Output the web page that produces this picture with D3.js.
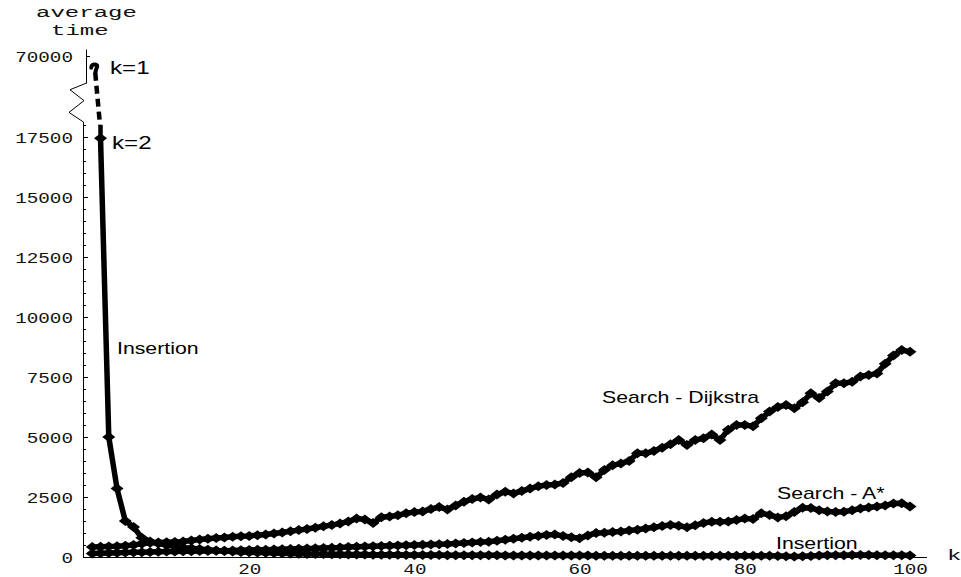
<!DOCTYPE html>
<html>
<head>
<meta charset="utf-8">
<script src="https://cdn.jsdelivr.net/npm/d3@7"></script>
<style>
  html, body { margin: 0; padding: 0; background: #fff; }
  svg { display: block; }
</style>
</head>
<body>
<svg id="chart" width="961" height="577"></svg>
<script>
// k = number of nearest neighbours requested
const kValues = d3.range(1, 101);

// average time per query, one value per k
const insertion = [
  69000, 17450, 5000, 2850, 1500, 1250, 800, 650, 560, 500,
  450, 400, 360, 330, 300, 270, 250, 230, 210, 200,
  185, 175, 165, 155, 145, 140, 130, 125, 120, 115,
  110, 105, 100, 100, 95, 95, 90, 90, 85, 85,
  80, 80, 80, 75, 75, 75, 70, 70, 70, 70,
  65, 65, 65, 65, 60, 60, 60, 60, 60, 60,
  60, 55, 55, 55, 55, 55, 55, 55, 55, 55,
  55, 55, 50, 50, 50, 50, 50, 50, 50, 50,
  50, 50, 50, 45, 30, 25, 30, 45, 60, 70,
  70, 75, 80, 80, 80, 75, 75, 70, 70, 60
];

const dijkstra = [
  420, 430, 440, 450, 470, 500, 550, 590, 600, 610,
  620, 650, 690, 730, 760, 790, 810, 840, 860, 880,
  910, 940, 980, 1020, 1070, 1120, 1170, 1220, 1280, 1330,
  1400, 1480, 1600, 1560, 1420, 1660, 1690, 1740, 1820, 1870,
  1900, 2000, 2080, 1980, 2150, 2300, 2420, 2480, 2400, 2600,
  2720, 2650, 2750, 2850, 2950, 3000, 3020, 3080, 3320, 3500,
  3520, 3320, 3620, 3820, 3900, 4000, 4320, 4320, 4420, 4550,
  4700, 4870, 4670, 4870, 4950, 5100, 4880, 5300, 5500, 5500,
  5450, 5780, 6060, 6250, 6330, 6200, 6450, 6820, 6620, 6900,
  7240, 7240, 7300, 7520, 7580, 7650, 8050, 8400, 8620, 8550
];

const aStar = [
  150, 160, 170, 180, 190, 200, 200, 210, 220, 230,
  230, 240, 240, 250, 250, 260, 260, 270, 280, 290,
  300, 300, 310, 320, 330, 340, 350, 360, 380, 390,
  400, 420, 430, 440, 450, 460, 470, 480, 490, 500,
  510, 520, 530, 540, 560, 580, 600, 620, 640, 680,
  720, 760, 800, 840, 880, 920, 940, 880, 820, 780,
  900, 1000, 1010, 1040, 1060, 1100, 1140, 1190, 1240, 1290,
  1330, 1300, 1240, 1320, 1420, 1470, 1470, 1480, 1540, 1600,
  1580, 1820, 1750, 1650, 1700, 1880, 2050, 2040, 1950, 1900,
  1880, 1890, 1950, 2020, 2060, 2100, 2150, 2230, 2240, 2100
];

const yTickValues = [0, 2500, 5000, 7500, 10000, 12500, 15000, 17500];
const yMinorStep = 500;
const yBreakValue = 18000;
const topTickValues = [70000];
const xTickValues = [20, 40, 60, 80, 100];

// ---------------------------------------------------------------
const svg = d3.select("#chart");
const SX = 1.33;                // horizontal stretch applied to all text
const monoFont = "'Liberation Mono', 'DejaVu Sans Mono', monospace";
const sansFont = "'Liberation Sans', Arial, Helvetica, sans-serif";

const x = d3.scaleLinear().domain([0, 102]).range([84, 926.5]);
const y = d3.scaleLinear().domain([0, yBreakValue]).range([557, 125]);
const yTop = d3.scaleLinear().domain([67500, 70650]).range([83, 49]);

const axisX = 83;     // lower y-axis position
const axisTopX = 86;  // upper (broken-off) y-axis position

// ---- lower y axis: ticks point inward, labels on the left ----
const minorTicks = d3.range(0, yBreakValue + 1, yMinorStep)
  .filter(v => !yTickValues.includes(v));

svg.append("g")
  .attr("transform", `translate(${axisX},0)`)
  .call(d3.axisRight(y).tickValues(minorTicks).tickSize(3).tickSizeOuter(0).tickFormat(""))
  .call(g => g.select(".domain").attr("stroke", "#000"));

const yMajor = svg.append("g")
  .attr("transform", `translate(${axisX},0)`)
  .call(d3.axisRight(y).tickValues(yTickValues).tickSize(5).tickSizeOuter(0).tickFormat(""));
yMajor.select(".domain").remove();

function styleTickText(sel, dx) {
  sel.attr("x", dx / SX)
    .attr("dy", "0.36em")
    .attr("transform", `scale(${SX},1)`)
    .attr("font-family", monoFont)
    .attr("font-size", 14.5)
    .attr("fill", "#111");
}

svg.append("g")
  .attr("transform", `translate(${axisX},0)`)
  .call(d3.axisLeft(y).tickValues(yTickValues).tickSize(0).tickFormat(d3.format("d")))
  .call(g => g.select(".domain").remove())
  .selectAll("text")
  .call(styleTickText, -10);

// ---- upper y axis segment (above the break) ----
svg.append("g")
  .attr("transform", `translate(${axisTopX},0)`)
  .call(d3.axisRight(yTop).tickValues(topTickValues).tickSize(4).tickSizeOuter(0).tickFormat(""));

svg.append("g")
  .attr("transform", `translate(${axisTopX},0)`)
  .call(d3.axisLeft(yTop).tickValues(topTickValues).tickSize(0).tickFormat(d3.format("d")))
  .call(g => g.select(".domain").remove())
  .selectAll("text")
  .call(styleTickText, -13);

// zig-zag joining the two axis pieces
const zTop = yTop.range()[0], zBot = y.range()[1];
const zh = zBot - zTop;
const zig = [
  [axisTopX + 0.5, zTop],
  [axisTopX - 16, zTop + zh * 0.16],
  [axisX + 1, zTop + zh * 0.42],
  [axisTopX - 17, zTop + zh * 0.70],
  [axisX + 0.5, zTop + zh * 0.93],
  [axisX + 0.5, zBot]
];
svg.append("path")
  .attr("d", d3.line()(zig))
  .attr("fill", "none")
  .attr("stroke", "#000")
  .attr("stroke-width", 1);

// ---- x axis ----
svg.append("g")
  .attr("transform", `translate(0,${y(0)})`)
  .call(d3.axisBottom(x).tickValues(xTickValues).tickSize(0).tickSizeOuter(0).tickFormat(d3.format("d")))
  .call(g => g.select(".domain").attr("stroke", "#000"))
  .selectAll("text")
  .attr("y", 0)
  .attr("dy", 0)
  .attr("transform", `translate(0,17) scale(${SX},1)`)
  .attr("font-family", monoFont)
  .attr("font-size", 14.5)
  .attr("fill", "#111");

// axis titles and annotations
function stretchedText(txt, px, py, opts) {
  svg.append("text")
    .attr("transform", `translate(${px},${py}) scale(${opts.sx || SX},1)`)
    .attr("font-family", opts.family)
    .attr("font-size", opts.size)
    .attr("font-weight", opts.weight || "normal")
    .attr("text-anchor", opts.anchor || "start")
    .attr("fill", opts.fill || "#000")
    .text(txt);
}
const titleStyle = { family: monoFont, size: 15.5, sx: 1.55, fill: "#111" };
stretchedText("average", 36, 17, titleStyle);
stretchedText("time", 51, 35, titleStyle);
stretchedText("k", 947, 560, titleStyle);

// ---- series ----
const diamond = "M0,-5L6.5,0L0,5L-6.5,0Z";
const lineGen = d3.line().x(d => x(d.k)).y(d => y(d.v));

function drawSeries(values, startIndex) {
  const pts = values.map((v, i) => ({ k: kValues[i], v })).slice(startIndex);
  const g = svg.append("g");
  g.append("path")
    .datum(pts)
    .attr("d", lineGen)
    .attr("fill", "none")
    .attr("stroke", "#000")
    .attr("stroke-width", 5.5)
    .attr("stroke-linejoin", "round")
    .attr("stroke-linecap", "round");
  g.selectAll("path.mk")
    .data(pts)
    .join("path")
    .attr("class", "mk")
    .attr("d", diamond)
    .attr("transform", d => `translate(${x(d.k)},${y(d.v)})`)
    .attr("fill", "#000");
  return pts;
}

drawSeries(dijkstra, 0);
drawSeries(aStar, 0);
drawSeries(insertion, 1);

// insertion k=1 sits above the axis break: dashed across the break
const p1 = { x: x(kValues[0]), y: yTop(insertion[0]) };
const p2 = { x: x(kValues[1]), y: y(insertion[1]) };
const t = (yBreakValue - insertion[1]) / (insertion[0] - insertion[1]);
const brk = { x: p2.x + (p1.x - p2.x) * t * 0.35, y: y(yBreakValue) };

svg.append("path")
  .attr("d", d3.line()([[p1.x + 3, p1.y + 6], [brk.x - 0.5, brk.y]]))
  .attr("fill", "none")
  .attr("stroke", "#000")
  .attr("stroke-width", 4.5)
  .attr("stroke-dasharray", "8,5");
svg.append("path")
  .attr("d", d3.line()([[brk.x, brk.y], [p2.x, p2.y]]))
  .attr("fill", "none")
  .attr("stroke", "#000")
  .attr("stroke-width", 4.5);
// small hooked marker at k=1
svg.append("path")
  .attr("d", `M${p1.x - 1},${p1.y + 1} q0,-4 5,-3 q2,1 0,4 l-1,4`)
  .attr("fill", "none")
  .attr("stroke", "#000")
  .attr("stroke-width", 4)
  .attr("stroke-linecap", "round");

const ann = { family: sansFont, size: 16 };
stretchedText("k=1", 110, 74, { family: sansFont, size: 17.5, sx: 1.38 });
stretchedText("k=2", 112, 149, { family: sansFont, size: 17.5, sx: 1.38 });
stretchedText("Insertion", 117, 354, ann);
stretchedText("Search - Dijkstra", 602, 403, ann);
stretchedText("Search - A*", 777, 499, ann);
stretchedText("Insertion", 776, 549, ann);
</script>
</body>
</html>
